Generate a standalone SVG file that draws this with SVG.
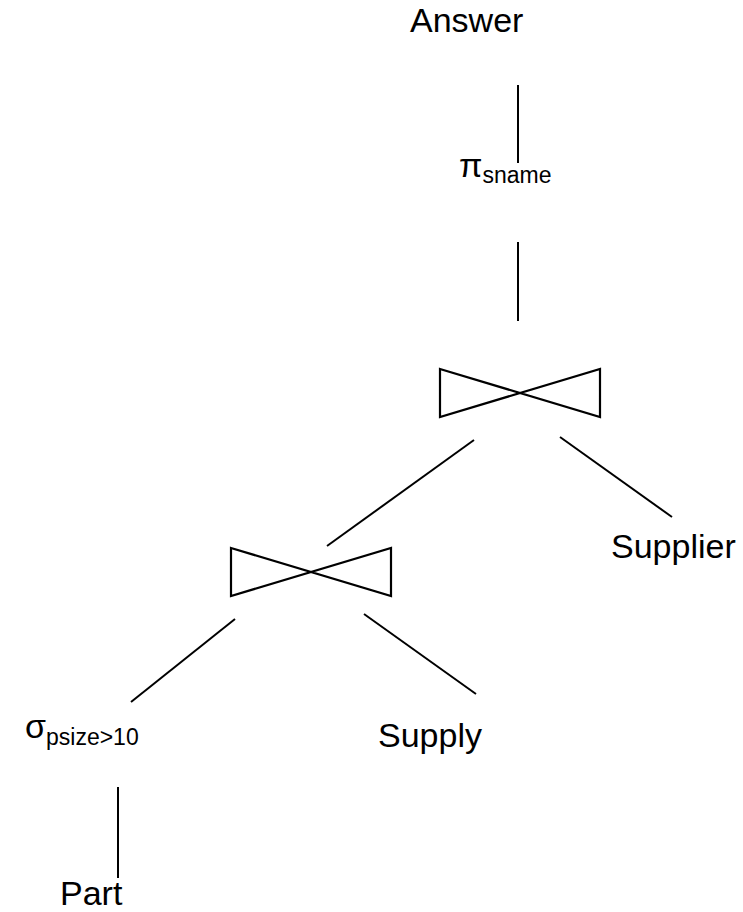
<svg xmlns="http://www.w3.org/2000/svg" width="743" height="912" viewBox="0 0 743 912">
  <style>
    .lbl { font-family: "Liberation Sans", Arial, sans-serif; font-size: 34px; fill: #000; }
    .sub { font-size: 23px; }
    .edge { stroke: #000; stroke-width: 2; fill: none; }
    .join { stroke: #000; stroke-width: 2.2; fill: none; stroke-linejoin: miter; }
  </style>
  <defs>
    <!-- bowtie join symbol, centred at origin -->
    <path id="bowtie" d="M-80,-24 L80,24 L80,-24 L-80,24 Z"/>
  </defs>

  <g id="connectors">
    <line class="edge" x1="518" y1="85" x2="518" y2="163"/>
    <line class="edge" x1="518" y1="242" x2="518" y2="321"/>
    <line class="edge" x1="474" y1="440" x2="327" y2="546"/>
    <line class="edge" x1="560" y1="437" x2="672" y2="517"/>
    <line class="edge" x1="235" y1="619" x2="131" y2="702"/>
    <line class="edge" x1="364" y1="614" x2="476" y2="694"/>
    <line class="edge" x1="118" y1="787" x2="118" y2="878"/>
  </g>

  <g id="answer">
    <text class="lbl" x="410" y="32">Answer</text>
  </g>

  <g id="projection">
    <text class="lbl" x="459" y="177">π<tspan class="sub" dy="6">sname</tspan></text>
  </g>

  <g id="join-top">
    <use href="#bowtie" class="join" transform="translate(520,393)"/>
  </g>

  <g id="supplier">
    <text class="lbl" x="611" y="558">Supplier</text>
  </g>

  <g id="join-bottom">
    <use href="#bowtie" class="join" transform="translate(311,572)"/>
  </g>

  <g id="selection">
    <text class="lbl" x="25" y="738">σ<tspan class="sub" dy="7">psize&gt;10</tspan></text>
  </g>

  <g id="supply">
    <text class="lbl" x="378" y="747">Supply</text>
  </g>

  <g id="part">
    <text class="lbl" x="60" y="905">Part</text>
  </g>
</svg>
